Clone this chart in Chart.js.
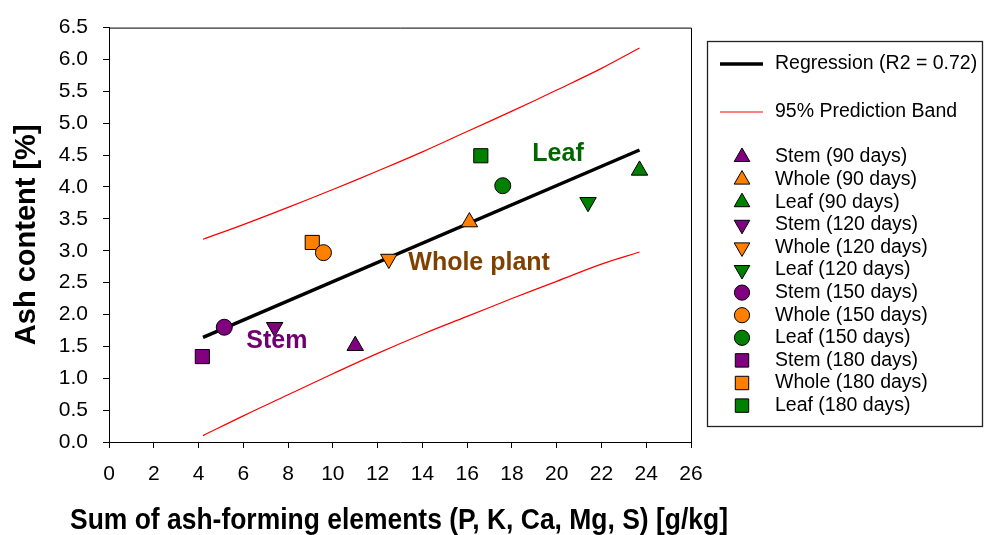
<!DOCTYPE html>
<html><head><meta charset="utf-8">
<script src="https://cdn.jsdelivr.net/npm/chart.js@4.4.0/dist/chart.umd.min.js"></script>
<style>html,body{margin:0;padding:0;background:#fff}#wrap{width:984px;height:535px}</style>
</head><body><div id="wrap"><canvas id="c" width="984" height="535"></canvas></div>
<script>
// ---- data ----
const parts = ['Stem', 'Whole', 'Leaf'];
const ages = ['90 days', '120 days', '150 days', '180 days'];
// values per age: 90, 120, 150, 180 days
const stemX  = [11.0, 7.4, 5.15, 4.17];
const stemY  = [1.51, 1.80, 1.80, 1.34];
const wholeX = [16.1, 12.5, 9.58, 9.08];
const wholeY = [3.45, 2.87, 2.97, 3.13];
const leafX  = [23.7, 21.4, 17.59, 16.61];
const leafY  = [4.26, 3.76, 4.02, 4.49];
// regression line end points
const regX = [4.2, 23.7];
const regY = [1.64, 4.58];
// 95% prediction band
const bandX     = [4.2, 6, 8, 10, 12, 14, 16, 18, 20, 22, 23.7];
const bandUpper = [3.18, 3.41, 3.68, 3.96, 4.25, 4.55, 4.87, 5.19, 5.52, 5.86, 6.18];
const bandLower = [0.10, 0.41, 0.74, 1.07, 1.39, 1.69, 1.97, 2.25, 2.52, 2.79, 2.98];
// tick settings
const xMin = 0, xMax = 26, xStep = 2;
const yMin = 0, yMax = 6.5, yStep = 0.5;
// titles
const xTitle = 'Sum of ash-forming elements (P, K, Ca, Mg, S) [g/kg]';
const yTitle = 'Ash content [%]';
// in-plot labels
const notes = [
  {text: 'Leaf', x: 20.06, y: 4.51, align: 'center', color: '#006600'},
  {text: 'Whole plant', x: 13.37, y: 2.80, align: 'left', color: '#7F4000'},
  {text: 'Stem', x: 7.5, y: 1.59, align: 'center', color: '#700070'}
];

// ---- styles ----
const FONT = "'Liberation Sans', Arial, sans-serif";
const partColor = {Stem: '#800080', Whole: '#FF8000', Leaf: '#008000'};
const ageStyle = [
  {pointStyle: 'triangle', rotation: 0, radius: 9.5},
  {pointStyle: 'triangle', rotation: 180, radius: 9.5},
  {pointStyle: 'circle', rotation: 0, radius: 8},
  {pointStyle: 'rect', rotation: 0, radius: 10}
];
const seriesX = {Stem: stemX, Whole: wholeX, Leaf: leafX};
const seriesY = {Stem: stemY, Whole: wholeY, Leaf: leafY};

const datasets = [];
ages.forEach((age, i) => {
  parts.forEach(p => {
    const st = ageStyle[i];
    datasets.push({
      label: p + ' (' + age + ')',
      data: [{x: seriesX[p][i], y: seriesY[p][i]}],
      pointStyle: st.pointStyle,
      rotation: st.rotation,
      radius: st.radius,
      pointRadius: st.radius,
      pointHoverRadius: st.radius,
      backgroundColor: partColor[p],
      borderColor: '#000',
      borderWidth: 1,
      showLine: false,
      isMarker: true
    });
  });
});
datasets.push({
  label: 'Regression (R2 = 0.72)',
  data: regX.map((x, i) => ({x, y: regY[i]})),
  showLine: true, borderColor: '#000', borderWidth: 3.5, pointRadius: 0, fill: false, legendLine: true
});
datasets.push({
  label: '95% Prediction Band',
  data: bandX.map((x, i) => ({x, y: bandUpper[i]})),
  showLine: true, borderColor: '#FF0000', borderWidth: 1.2, pointRadius: 0, tension: 0.4, fill: false, legendLine: true
});
datasets.push({
  label: '95% Prediction Band (lower)',
  data: bandX.map((x, i) => ({x, y: bandLower[i]})),
  showLine: true, borderColor: '#FF0000', borderWidth: 1.2, pointRadius: 0, tension: 0.4, fill: false
});

const framePlugin = {
  id: 'frame',
  afterDatasetsDraw(chart) {
    const {ctx, chartArea: a, scales} = chart;
    ctx.save();
    ctx.strokeStyle = '#000';
    ctx.lineWidth = 1;
    ctx.beginPath();
    ctx.moveTo(a.left, a.top + 0.5);
    ctx.lineTo(a.right + 0.5, a.top + 0.5);
    ctx.lineTo(a.right + 0.5, a.bottom);
    ctx.stroke();
    // in-plot labels
    ctx.font = 'bold 25px ' + FONT;
    ctx.textBaseline = 'middle';
    notes.forEach(n => {
      ctx.fillStyle = n.color;
      ctx.textAlign = n.align;
      ctx.fillText(n.text, scales.x.getPixelForValue(n.x), scales.y.getPixelForValue(n.y));
    });
    ctx.restore();
  },
  afterDraw(chart) {
    const ctx = chart.ctx;
    ctx.save();
    // x axis title (slightly wider than the axis, as in the reference)
    const a = chart.chartArea;
    ctx.font = 'bold 29px ' + FONT;
    ctx.fillStyle = '#000';
    ctx.textAlign = 'center';
    ctx.textBaseline = 'middle';
    ctx.fillText(xTitle, (a.left + a.right) / 2 - 1, 521, 658);
    // legend box
    const bx = 707.5, by = 41.5, bw = 275, bh = 385;
    ctx.strokeStyle = '#222';
    ctx.lineWidth = 1.3;
    ctx.strokeRect(bx, by, bw, bh);
    ctx.font = '19.5px ' + FONT;
    ctx.fillStyle = '#000';
    ctx.textAlign = 'left';
    ctx.textBaseline = 'middle';
    const textX = 775;
    const lines = chart.data.datasets.filter(d => d.legendLine);
    const lineYs = [64, 112];
    lines.forEach((d, i) => {
      ctx.strokeStyle = d.borderColor;
      ctx.lineWidth = d.borderWidth;
      ctx.beginPath();
      ctx.moveTo(720, lineYs[i]);
      ctx.lineTo(763, lineYs[i]);
      ctx.stroke();
      ctx.fillStyle = '#000';
      ctx.fillText(d.label, textX, lineYs[i]);
    });
    const markers = chart.data.datasets.filter(d => d.isMarker);
    markers.forEach((d, i) => {
      const y = 157 + i * 22.6;
      ctx.fillStyle = d.backgroundColor;
      ctx.strokeStyle = '#000';
      ctx.lineWidth = 1;
      Chart.helpers.drawPoint(ctx, {pointStyle: d.pointStyle, rotation: d.rotation, radius: d.radius * 0.95, borderWidth: 1}, 742, y);
      ctx.fillStyle = '#000';
      ctx.fillText(d.label, textX, y);
    });
    ctx.restore();
  }
};

new Chart(document.getElementById('c'), {
  type: 'scatter',
  data: {datasets},
  options: {
    responsive: false,
    animation: false,
    devicePixelRatio: 1,
    layout: {padding: {top: 22, right: 293, left: 0, bottom: 0}},
    plugins: {legend: {display: false}, tooltip: {enabled: false}},
    elements: {line: {tension: 0}},
    scales: {
      x: {
        type: 'linear', min: xMin, max: xMax,
        ticks: {stepSize: xStep, color: '#000', padding: 14, font: {family: FONT, size: 21}, maxRotation: 0},
        grid: {drawOnChartArea: false, drawTicks: true, tickLength: 6, color: '#000'},
        border: {display: true, color: '#000', width: 1},
        title: {display: false},
        afterFit(s) { s.height = 93; }
      },
      y: {
        type: 'linear', min: yMin, max: yMax,
        ticks: {stepSize: yStep, color: '#000', padding: 15, font: {family: FONT, size: 21},
                callback: v => Number(v).toFixed(1)},
        grid: {drawOnChartArea: false, drawTicks: true, tickLength: 6, color: '#000'},
        border: {display: true, color: '#000', width: 1},
        title: {display: true, text: yTitle, color: '#000',
                font: {family: FONT, size: 29, weight: 'bold'}, padding: {top: 10, bottom: 0}},
        afterFit(s) { s.width = 109; }
      }
    }
  },
  plugins: [framePlugin]
});
</script></body></html>
